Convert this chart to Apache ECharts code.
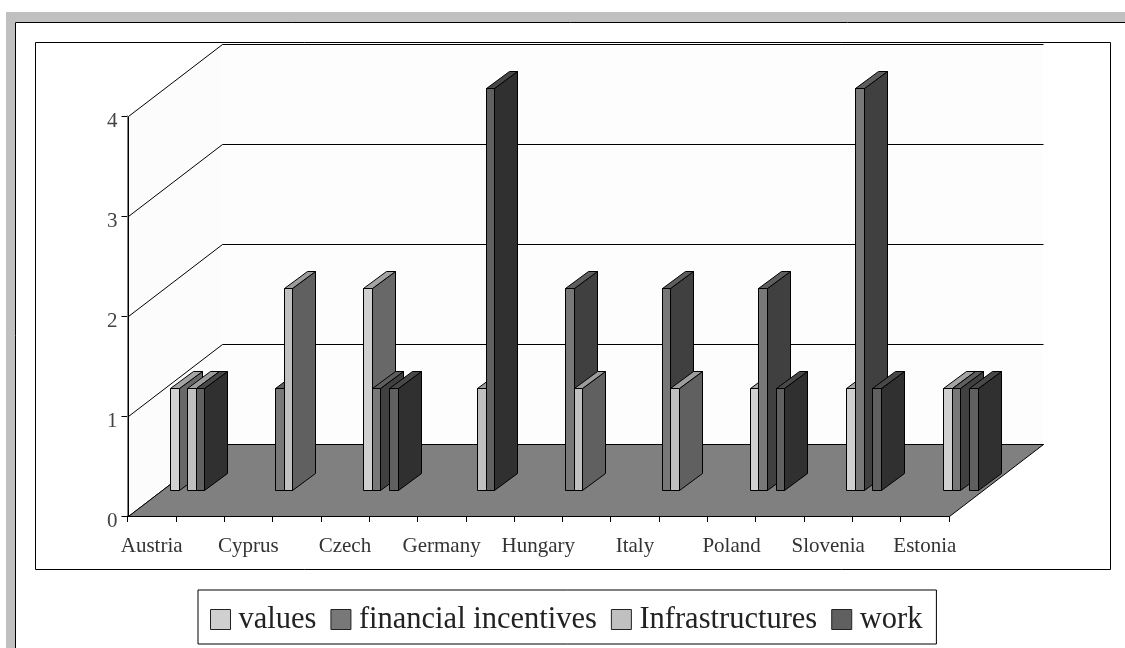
<!DOCTYPE html>
<html>
<head>
<meta charset="utf-8">
<style>html,body{margin:0;padding:0;background:#fff}#c{width:1125px;height:648px}</style>
<script src="https://cdn.jsdelivr.net/npm/echarts@6/dist/echarts.min.js"></script>
</head>
<body>
<div id="c"></div>
<script>
const categories = ['Austria','','Cyprus','','Czech','','Germany','','Hungary','','Italy','','Poland','','Slovenia','','Estonia'];
const valuesSeries =     [1,null,0,null,2,null,0,null,0,null,0,null,1,null,1,null,1];
const financialSeries =  [0,null,1,null,1,null,0,null,2,null,2,null,2,null,4,null,1];
const infraSeries =      [1,null,2,null,0,null,1,null,1,null,1,null,0,null,0,null,0];
const workSeries =       [1,null,0,null,1,null,4,null,0,null,0,null,1,null,1,null,1];
const wallLevels = [0,1,2,3,4];
const serif = '"Liberation Serif", serif';

// 3D projection of the box and of the bars (styling constants)
const boxDX = 94, boxDY = 72;
const barDX = 23, barDY = 17;
const shiftX = 35.5, baseShiftY = 26, topShiftY = 28;
const slotFrac = 0.178;

const px = v => Math.round(v) + 0.5;
const poly = (pts, fill, stroke) => ({
  type: 'polygon',
  shape: { points: pts.map(p => [px(p[0]), px(p[1])]) },
  style: { fill: fill, stroke: stroke || '#000', lineWidth: 1 }
});
const seg = (a, b) => ({
  type: 'line',
  shape: { x1: px(a[0]), y1: px(a[1]), x2: px(b[0]), y2: px(b[1]) },
  style: { stroke: '#000', lineWidth: 1, fill: null }
});

function barSeries(name, data, slot, front, side, top) {
  return {
    name: name, type: 'custom', coordinateSystem: 'cartesian2d', clip: false, z: 5,
    itemStyle: { color: front },
    encode: { x: 0, y: 1 },
    data: data.map((v, i) => [i, v]).filter(d => d[1] !== null),
    renderItem: function (params, api) {
      const v = api.value(1);
      if (!v) return null;
      const c = api.coord([api.value(0), v]);
      const b = api.coord([api.value(0), 0]);
      const w = api.size([1, 0])[0] * slotFrac;
      const x0 = c[0] + shiftX - 2 * w + slot * w, x1 = x0 + w;
      const yT = c[1] - topShiftY, yB = b[1] - baseShiftY;
      return { type: 'group', children: [
        poly([[x1, yT], [x1 + barDX, yT - barDY], [x1 + barDX, yB - barDY], [x1, yB]], side),
        poly([[x0, yT], [x0 + barDX, yT - barDY], [x1 + barDX, yT - barDY], [x1, yT]], top),
        poly([[x0, yT], [x1, yT], [x1, yB], [x0, yB]], front)
      ]};
    }
  };
}

const wallFillSeries = {
  type: 'custom', coordinateSystem: 'cartesian2d', clip: false, z: 1,
  silent: true, data: [[0, wallLevels[wallLevels.length - 1]]],
  renderItem: function (params, api) {
    const g = params.coordSys;
    const y = api.coord([0, api.value(1)])[1];
    const bot = api.coord([0, 0])[1];
    const L = g.x, R = g.x + g.width;
    return { type: 'group', children: [
      { type: 'polygon', shape: { points: [[L, y], [L + boxDX, y - boxDY], [L + boxDX, bot - boxDY], [L, bot]] }, style: { fill: '#fcfcfc' } },
      { type: 'polygon', shape: { points: [[L + boxDX, y - boxDY], [R + boxDX, y - boxDY], [R + boxDX, bot - boxDY], [L + boxDX, bot - boxDY]] }, style: { fill: '#fdfdfd' } },
      seg([L, y], [L, bot])
    ]};
  }
};

const gridSeries = {
  type: 'custom', coordinateSystem: 'cartesian2d', clip: false, z: 2,
  silent: true,
  data: wallLevels.map(v => [0, v]),
  renderItem: function (params, api) {
    const g = params.coordSys;
    const y = api.coord([0, api.value(1)])[1];
    const L = g.x, R = g.x + g.width;
    return { type: 'group', children: [
      seg([L, y], [L + boxDX, y - boxDY]),
      seg([L + boxDX, y - boxDY], [R + boxDX, y - boxDY])
    ]};
  }
};

const floorSeries = {
  type: 'custom', coordinateSystem: 'cartesian2d', clip: false, z: 3,
  silent: true, data: [[0, 0]],
  renderItem: function (params, api) {
    const g = params.coordSys;
    const y = api.coord([0, api.value(1)])[1];
    const L = g.x, R = g.x + g.width;
    return poly([[L, y], [R, y], [R + boxDX, y - boxDY], [L + boxDX, y - boxDY]], '#808080');
  }
};

const chart = echarts.init(document.getElementById('c'), null, { renderer: 'canvas' });
chart.setOption({
  animation: false,
  backgroundColor: '#fff',
  graphic: [
    { type: 'rect', z: -10, shape: { x: 6, y: 12, width: 1119, height: 10 }, style: { fill: '#c0c0c0' } },
    { type: 'rect', z: -10, shape: { x: 6, y: 12, width: 9, height: 636 }, style: { fill: '#c0c0c0' } },
    { type: 'line', z: -9, shape: { x1: 15.5, y1: 22.5, x2: 1125, y2: 22.5 }, style: { stroke: '#000', lineWidth: 1 } },
    { type: 'line', z: -9, shape: { x1: 15.5, y1: 22.5, x2: 15.5, y2: 648 }, style: { stroke: '#000', lineWidth: 1 } },
    { type: 'rect', z: -8, shape: { x: 35.5, y: 42.5, width: 1075, height: 527 }, style: { fill: 'none', stroke: '#000', lineWidth: 1 } }
  ],
  grid: { left: 127.5, top: 116, width: 821.5, height: 400, containLabel: false },
  xAxis: {
    type: 'category', data: categories,
    axisLine: { show: true, lineStyle: { color: '#000', width: 1 } },
    axisTick: { show: true, length: 6, alignWithLabel: false, interval: 0, lineStyle: { color: '#000' } },
    axisLabel: { interval: 0, color: '#333', fontFamily: serif, fontSize: 21, margin: 20, hideOverlap: false },
    splitLine: { show: false }
  },
  yAxis: {
    type: 'value', min: 0, max: 4, interval: 1,
    axisLine: { show: true, lineStyle: { color: '#000', width: 1 } },
    axisTick: { show: true, length: 6, lineStyle: { color: '#000' } },
    axisLabel: { color: '#444', fontFamily: serif, fontSize: 21, margin: 10, verticalAlign: 'top', lineHeight: 10 },
    splitLine: { show: false }
  },
  legend: {
    left: 198, top: 590,
    orient: 'horizontal', icon: 'rect', selectedMode: false,
    data: ['values', 'financial incentives', 'Infrastructures', 'work'].map(n => ({ name: n })),
    itemWidth: 20, itemHeight: 20, itemGap: 14,
    itemStyle: { borderColor: '#222', borderWidth: 1 },
    textStyle: { fontFamily: serif, fontSize: 30.5, color: '#222', padding: [0, 0, 0, 3] },
    borderColor: '#000', borderWidth: 1, backgroundColor: '#fff',
    padding: [14, 14, 9, 12]
  },
  series: [
    wallFillSeries, gridSeries, floorSeries,
    barSeries('values', valuesSeries, 0, '#d0d0d0', '#686868', '#a4a4a4'),
    barSeries('financial incentives', financialSeries, 1, '#787878', '#404040', '#5e5e5e'),
    barSeries('Infrastructures', infraSeries, 2, '#c0c0c0', '#606060', '#9c9c9c'),
    barSeries('work', workSeries, 3, '#606060', '#303030', '#484848')
  ]
});
</script>
</body>
</html>
